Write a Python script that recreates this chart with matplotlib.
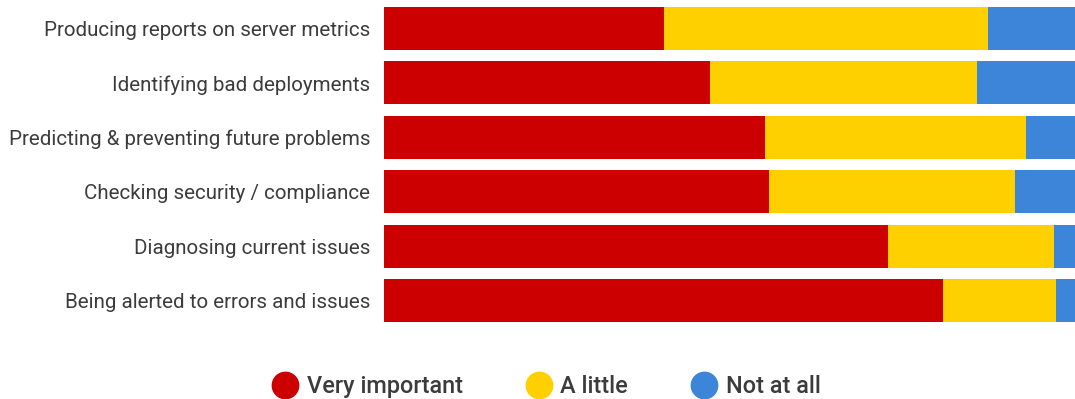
import numpy as np
import matplotlib.pyplot as plt
from matplotlib.lines import Line2D

# Survey categories (top to bottom)
categories = [
    "Producing reports on server metrics",
    "Identifying bad deployments",
    "Predicting & preventing future problems",
    "Checking security / compliance",
    "Diagnosing current issues",
    "Being alerted to errors and issues",
]
very_important = [40.5, 47.2, 55.1, 55.7, 72.9, 80.9]
a_little = [46.9, 38.6, 37.8, 35.6, 24.0, 16.4]
not_at_all = [12.6, 14.2, 7.1, 8.7, 3.1, 2.7]

series_names = ["Very important", "A little", "Not at all"]
colors = ["#cc0000", "#ffd000", "#3d85d8"]

plt.rcParams["font.family"] = ["Roboto", "DejaVu Sans"]

fig = plt.figure(figsize=(10.75, 3.99), dpi=100)
ax = fig.add_axes([384 / 1075, 1 - 327.7 / 399, 691 / 1075, 326.4 / 399])

y = np.arange(len(categories))
left = np.zeros(len(categories))
for vals, name, c in zip([very_important, a_little, not_at_all], series_names, colors):
    ax.barh(y, vals, left=left, height=0.79, color=c, label=name)
    left += np.array(vals)

ax.set_xlim(0, 100)
ax.set_ylim(len(categories) - 0.5, -0.5)
ax.set_yticks(y)
ax.set_yticklabels(categories, fontsize=14.8, color="#3c3c3c")
ax.tick_params(axis="y", length=0, pad=10)
ax.set_xticks([])
for s in ax.spines.values():
    s.set_visible(False)

handles = [Line2D([], [], marker="o", linestyle="", markersize=19,
                  markerfacecolor=c, markeredgecolor=c) for c in colors]
fig.legend(handles, series_names, loc="center", bbox_to_anchor=(0.508, 1 - 386.5 / 399),
           ncol=3, frameon=False, handlelength=1.15, handletextpad=0.35,
           columnspacing=2.65, prop={"size": 16.9, "weight": "medium"},
           labelcolor="#3c3c3c")

fig.savefig("out.png", dpi=100)
